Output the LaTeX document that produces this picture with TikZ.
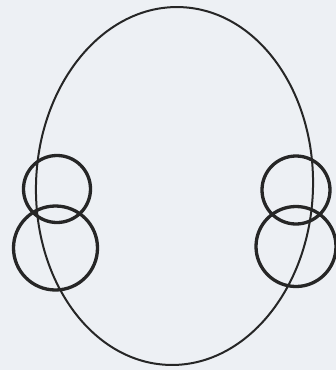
\documentclass[tikz,border=0pt]{standalone}
\begin{document}
\begin{tikzpicture}[x=1pt,y=-1pt,
  head/.style={draw=black!85, line width=2pt},
  ear/.style={draw=black!85, line width=3.3pt}]
\fill[fill={rgb,255:red,237;green,240;blue,244}] (0,0) rectangle (336,370);
\useasboundingbox (0,0) rectangle (336,370);
\draw[head, rotate around={-2:(174.5,186)}] (174.5,186) ellipse [x radius=138.5, y radius=179];
\draw[ear] (57,189) circle [radius=33.5];
\draw[ear] (55.5,248) circle [radius=42];
\draw[ear] (296,190) circle [radius=34];
\draw[ear] (296,246.5) circle [radius=40];
\end{tikzpicture}
\end{document}
